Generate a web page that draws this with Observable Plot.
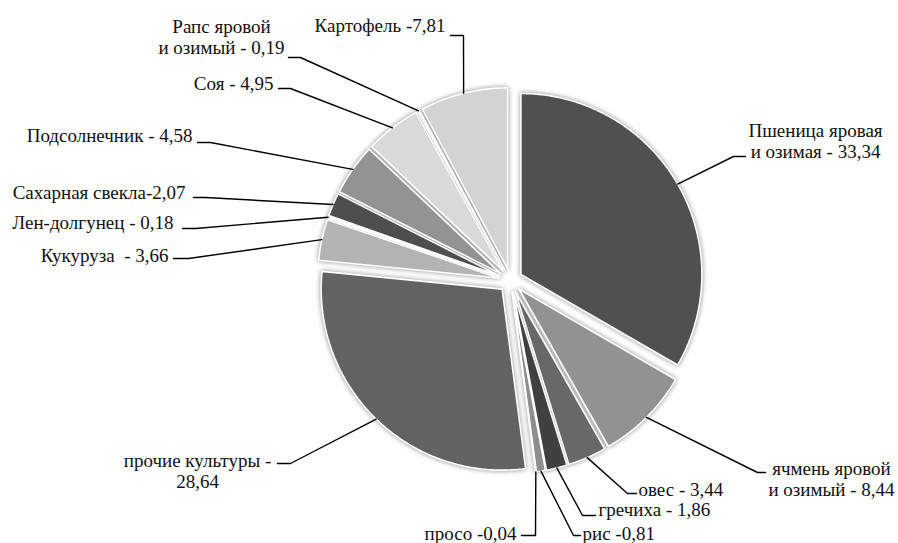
<!DOCTYPE html>
<html>
<head>
<meta charset="utf-8">
<script src="https://cdn.jsdelivr.net/npm/d3@7"></script>
<script src="https://cdn.jsdelivr.net/npm/@observablehq/plot@0.6"></script>
<style>
  body { margin: 0; background: #fff; }
  #chart svg { display: block; }
  /* soft glow around the slices */
  #chart .slices { filter: drop-shadow(0 0 2.5px rgba(0, 0, 0, 0.45)); }
</style>
</head>
<body>
<div id="chart"></div>
<script>
// Crop shares, clockwise from 12 o'clock
const crops = [
  "Пшеница яровая и озимая", "ячмень яровой и озимый", "овес", "гречиха", "рис", "просо",
  "прочие культуры", "Кукуруза", "Лен-долгунец", "Сахарная свекла", "Подсолнечник", "Соя",
  "Рапс яровой и озимый", "Картофель"
];
const shares = [33.34, 8.44, 3.44, 1.86, 0.81, 0.04, 28.64, 3.66, 0.18, 2.07, 4.58, 4.95, 0.19, 7.81];
const labelHeads = [
  "Пшеница яровая\nи озимая - ", "ячмень яровой\nи озимый - ", "овес - ", "гречиха - ", "рис -", "просо -",
  "прочие культуры -\n", "Кукуруза\u00a0 - ", "Лен-долгунец - ", "Сахарная свекла-", "Подсолнечник - ", "Соя - ",
  "Рапс яровой\nи озимый - ", "Картофель -"
];
const sliceGrays = [
  "#505050", "#929292", "#686868", "#404040", "#8e8e8e", "#d0d0d0",
  "#626262", "#b3b3b3", "#d6d6d6", "#4e4e4e", "#939393", "#d9d9d9",
  "#e2e2e2", "#d3d3d3"
];

// Label layout (pixels): text anchor point, alignment, leader knee and leader end
const labelXY = [
  [815, 140], [831, 478], [638, 489], [598, 509], [582, 533], [516, 533],
  [197, 470], [168, 255], [173, 222], [185, 192], [192, 135], [273, 83],
  [221, 36], [445, 25]
];
const labelAlign = [
  "middle", "middle", "start", "start", "start", "end",
  "middle", "end", "end", "end", "end", "end",
  "middle", "end"
];
const leaderKnee = [
  [733, 156], [757, 472], [627, 493], [582, 515], [573, 535], [535, 535],
  [290, 463], [188, 258], [195, 228], [205, 197], [210, 142], [290, 88],
  [300, 57], [463, 35]
];
const leaderEndX = [745, 765, 636, 595, 580, 521, 277, 173, 182, 193, 197, 278, 288, 450];

const W = 898, H = 543;
const cx = 510, cy = 280, R = 181, explode = 12;

const fmt = v => v.toFixed(2).replace(".", ",");
const arcs = d3.pie().sort(null).value(d => d)(shares);

// slice outlines and leader lines
const slicePts = [];
const leaderPts = [];
arcs.forEach((a, i) => {
  const mid = (a.startAngle + a.endAngle) / 2;
  const ox = cx + explode * Math.sin(mid), oy = cy - explode * Math.cos(mid);
  slicePts.push({i, x: ox, y: oy});
  const n = Math.max(2, Math.ceil((a.endAngle - a.startAngle) / 0.01));
  for (let k = 0; k <= n; k++) {
    const t = a.startAngle + (a.endAngle - a.startAngle) * k / n;
    slicePts.push({i, x: ox + R * Math.sin(t), y: oy - R * Math.cos(t)});
  }
  slicePts.push({i, x: ox, y: oy});
  // rim point at the slice's middle angle -> knee -> end
  leaderPts.push({i, x: ox + R * Math.sin(mid), y: oy - R * Math.cos(mid)});
  leaderPts.push({i, x: leaderKnee[i][0], y: leaderKnee[i][1]});
  leaderPts.push({i, x: leaderEndX[i], y: leaderKnee[i][1]});
});

const labels = shares.map((v, i) => ({
  i, x: labelXY[i][0], y: labelXY[i][1], align: labelAlign[i], text: labelHeads[i] + fmt(v)
}));

const textStyle = {
  x: "x", y: "y", text: "text", fill: "#111",
  fontFamily: "Liberation Serif", fontSize: 19, lineHeight: 1.13
};

const chart = Plot.plot({
  width: W, height: H,
  margin: 0,
  x: {domain: [0, W], range: [0, W], axis: null},
  y: {domain: [0, H], range: [0, H], axis: null},
  color: {type: "identity"},
  marks: [
    Plot.line(slicePts, {
      x: "x", y: "y", z: "i", fill: d => sliceGrays[d.i],
      stroke: "white", strokeWidth: 1.6, strokeLinejoin: "miter"
    }),
    Plot.line(leaderPts, {x: "x", y: "y", z: "i", stroke: "#000", strokeWidth: 1.4}),
    Plot.text(labels.filter(d => d.align === "start"), {...textStyle, textAnchor: "start"}),
    Plot.text(labels.filter(d => d.align === "middle"), {...textStyle, textAnchor: "middle"}),
    Plot.text(labels.filter(d => d.align === "end"), {...textStyle, textAnchor: "end"})
  ]
});
const lineGroups = chart.querySelectorAll('g[aria-label="line"]');
if (lineGroups.length) lineGroups[0].classList.add("slices");
document.getElementById("chart").append(chart);
</script>
</body>
</html>
